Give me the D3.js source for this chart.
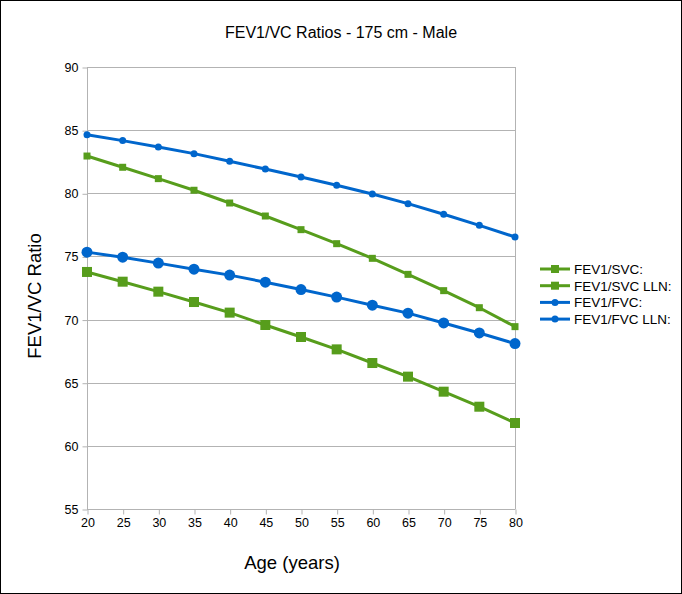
<!DOCTYPE html>
<html><head><meta charset="utf-8">
<script src="https://cdn.jsdelivr.net/npm/d3@7"></script>
<style>body{margin:0;background:#fff}svg{display:block}text{font-family:"Liberation Sans",Arial,sans-serif}</style>
</head><body>
<script>
const ages = [20,25,30,35,40,45,50,55,60,65,70,75,80];
const fev1Svc    = [82.95,82.06,81.16,80.24,79.23,78.20,77.12,76.01,74.85,73.58,72.29,70.94,69.44];
const fev1SvcLln = [73.77,73.00,72.21,71.39,70.55,69.57,68.62,67.64,66.56,65.48,64.29,63.10,61.81];
const fev1Fvc    = [84.64,84.17,83.67,83.14,82.53,81.92,81.29,80.63,79.94,79.18,78.34,77.46,76.54];
const fev1FvcLln = [75.34,74.94,74.47,73.99,73.52,72.96,72.38,71.78,71.14,70.51,69.73,68.94,68.10];
const yTicks = [55,60,65,70,75,80,85,90];
const seriesNames = ["FEV1/SVC:","FEV1/SVC LLN:","FEV1/FVC:","FEV1/FVC LLN:"];

const W=682,H=594;
const svg=d3.select("body").append("svg").attr("width",W).attr("height",H);
svg.append("rect").attr("x",0.5).attr("y",0.5).attr("width",W-1).attr("height",H-1).attr("fill","#fff").attr("stroke","#000");

const L=87,R=515,T=67,B=509;
const x=d3.scaleLinear().domain([20,80]).range([L,R]);
const y=d3.scaleLinear().domain([55,90]).range([B,T]);
const grid="#b3b3b3";

svg.append("g").selectAll("line").data(yTicks).join("line")
  .attr("x1",L).attr("x2",R).attr("y1",d=>Math.round(y(d))+0.5).attr("y2",d=>Math.round(y(d))+0.5)
  .attr("stroke",grid).attr("stroke-width",1);
svg.append("line").attr("x1",R+0.5).attr("x2",R+0.5).attr("y1",T).attr("y2",B).attr("stroke",grid);

const yAxis=svg.append("g").attr("transform",`translate(${L+0.5},0.5)`)
  .call(d3.axisLeft(y).tickValues(yTicks).tickSize(5).tickPadding(4).tickFormat(d3.format("d")));
const xAxis=svg.append("g").attr("transform",`translate(0.5,${B+0.5})`)
  .call(d3.axisBottom(x).tickValues(ages).tickSize(5).tickPadding(4).tickFormat(d3.format("d")));
[yAxis,xAxis].forEach(g=>{
  g.select(".domain").attr("stroke",grid);
  g.selectAll(".tick line").attr("stroke",grid);
  g.selectAll(".tick text").attr("fill","#000").style("font-size","12.5px").style("font-family",'"Liberation Sans",Arial,sans-serif');
});
yAxis.select(".domain").attr("d",`M0,${T-0.5}V${B}`);
xAxis.select(".domain").attr("d",`M${L},0H${R}`);

const green="#579d1c",blue="#0066cc";
const series=[
  {vals:fev1Svc,color:green,shape:"square",size:7},
  {vals:fev1SvcLln,color:green,shape:"square",size:10},
  {vals:fev1Fvc,color:blue,shape:"circle",size:7},
  {vals:fev1FvcLln,color:blue,shape:"circle",size:11},
];
const line=d3.line().x((d,i)=>x(ages[i])).y(d=>y(d));
function marker(g,s,cx,cy){
  if(s.shape==="square") g.append("rect").attr("x",cx-s.size/2).attr("y",cy-s.size/2).attr("width",s.size).attr("height",s.size).attr("fill",s.color);
  else g.append("circle").attr("cx",cx).attr("cy",cy).attr("r",s.size/2).attr("fill",s.color);
}
series.forEach(s=>{
  svg.append("path").datum(s.vals).attr("d",line).attr("fill","none").attr("stroke",s.color).attr("stroke-width",3).attr("stroke-linejoin","round");
  const g=svg.append("g");
  s.vals.forEach((v,i)=>marker(g,s,x(ages[i]),y(v)));
});

series.forEach((s,i)=>{
  const ly=269+i*16.7;
  const g=svg.append("g");
  g.append("line").attr("x1",540).attr("x2",570).attr("y1",ly).attr("y2",ly).attr("stroke",s.color).attr("stroke-width",3);
  marker(g,{...s,size:s.shape==="square"?8:7},555,ly);
  g.append("text").attr("x",574).attr("y",ly+4.8).text(seriesNames[i]).style("font-size","13.5px");
});

svg.append("text").attr("x",341).attr("y",38).attr("text-anchor","middle").style("font-size","16px").text("FEV1/VC Ratios - 175 cm - Male");
svg.append("text").attr("x",292).attr("y",569).attr("text-anchor","middle").style("font-size","18.5px").text("Age (years)");
svg.append("text").attr("transform","translate(41,296) rotate(-90)").attr("text-anchor","middle").style("font-size","18.5px").text("FEV1/VC Ratio");
</script>
</body></html>
